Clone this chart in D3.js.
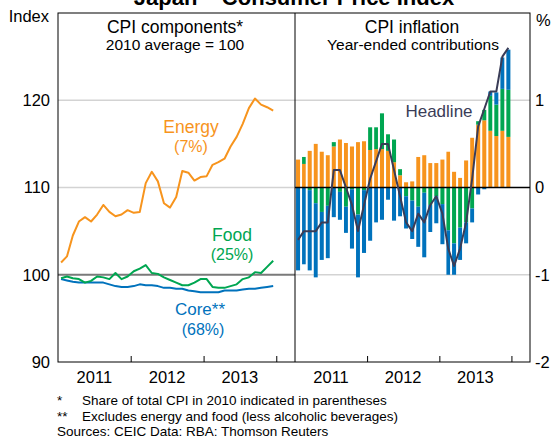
<!DOCTYPE html>
<html><head><meta charset="utf-8">
<script src="https://cdnjs.cloudflare.com/ajax/libs/d3/7.8.5/d3.min.js"></script>
<style>html,body{margin:0;padding:0;background:#fff;} svg{display:block;} text{font-family:"Liberation Sans",Arial,sans-serif;}</style>
</head><body><svg id="c" width="554" height="439"></svg>
<script>
// ---------- data ----------
const months = ["2011-01","2011-02","2011-03","2011-04","2011-05","2011-06","2011-07","2011-08","2011-09","2011-10","2011-11","2011-12",
                "2012-01","2012-02","2012-03","2012-04","2012-05","2012-06","2012-07","2012-08","2012-09","2012-10","2012-11","2012-12",
                "2013-01","2013-02","2013-03","2013-04","2013-05","2013-06","2013-07","2013-08","2013-09","2013-10","2013-11","2013-12"];
// CPI components, index 2010 average = 100
const energyIndex = [101.4,102.1,104.5,106.1,106.6,106.1,106.9,108.0,107.2,106.7,106.9,107.4,
                     107.1,107.2,110.5,111.8,110.7,108.2,107.7,108.9,111.9,111.7,110.8,111.2,
                     111.3,112.6,112.9,113.3,114.7,115.8,117.3,119.1,120.2,119.5,119.2,118.8];
const foodIndex   = [99.6,99.8,99.6,99.5,99.1,99.3,99.8,99.7,99.5,100.2,99.5,99.8,
                     100.4,100.7,101.1,100.2,100.1,99.7,99.4,99.1,98.8,98.8,99.1,99.5,
                     99.5,98.6,98.5,98.5,98.7,98.9,99.5,99.7,100.3,100.2,100.9,101.6];
const coreIndex   = [99.5,99.35,99.2,99.1,99.1,99.1,99.1,99.1,98.9,98.7,98.6,98.6,
                     98.7,98.9,98.8,98.8,98.7,98.5,98.5,98.4,98.4,98.2,98.1,98.0,
                     98.0,98.0,98.0,98.2,98.2,98.2,98.3,98.4,98.4,98.5,98.6,98.7];
// CPI inflation, year-ended contributions (ppt)
const contribEnergy = [0.32,0.27,0.42,0.50,0.41,0.37,0.47,0.55,0.51,0.47,0.52,0.53,
                       0.43,0.44,0.44,0.42,0.29,0.14,0.06,0.07,0.35,0.37,0.28,0.28,
                       0.32,0.41,0.18,0.11,0.31,0.57,0.72,0.77,0.65,0.59,0.65,0.58];
const contribFood   = [0.00,0.08,-0.03,-0.18,-0.28,-0.21,0.05,-0.05,-0.22,-0.02,-0.31,-0.03,
                       0.26,0.25,0.41,0.19,0.26,0.07,-0.10,-0.15,-0.22,-0.06,-0.20,-0.10,
                       -0.19,-0.49,-0.64,-0.46,-0.40,-0.24,0.04,0.12,0.40,0.36,0.48,0.54];
const contribCore   = [-0.95,-0.88,-0.92,-0.85,-0.55,-0.60,-0.34,-0.32,-0.30,-0.68,-0.72,-0.72,
                       -0.61,-0.40,-0.37,-0.14,-0.38,-0.33,-0.37,-0.44,-0.46,-0.74,-0.31,-0.31,
                       -0.46,-0.51,-0.36,-0.37,-0.24,-0.16,-0.08,-0.02,0.05,0.14,0.36,0.46];
const headline      = [-0.6,-0.5,-0.5,-0.5,-0.4,-0.4,0.2,0.2,0.0,-0.2,-0.5,-0.2,
                       0.1,0.3,0.5,0.5,0.2,-0.1,-0.4,-0.5,-0.3,-0.4,-0.2,-0.1,
                       -0.3,-0.7,-0.9,-0.7,-0.4,0.1,0.7,0.9,1.1,1.1,1.5,1.6];
const leftTicks  = [90,100,110,120];
const rightTicks = [-2,-1,0,1];
const yearLabels = ["2011","2012","2013"];
const yearBreaks = ["2012","2013","2014"];

// ---------- layout ----------
const C = {energy:"#F7941D", food:"#00A651", core:"#0072BC", head:"#3A3C57", grid:"#d3d3d3"};
const svg = d3.select("#c");
const T = 13, B = 362, L0 = 58, M = 295, R1 = 530;
const parseM = d3.timeParse("%Y-%m"), parseY = d3.timeParse("%Y");
const dates = months.map(parseM);
const t0 = new Date(2011,0,1), t1 = new Date(2014,3,5);
const xL = d3.scaleTime().domain([t0,t1]).range([L0,M]);
const xR = d3.scaleTime().domain([t0,t1]).range([M,R1]);
const yL = d3.scaleLinear().domain([90,130]).range([B,T]);
const yR = d3.scaleLinear().domain([-2,2]).range([B,T]);
const mid = d => new Date((+d + +d3.timeMonth.offset(d,1))/2);

// title (cropped at top in reference)
svg.append("text").attr("x",294).attr("y",5).attr("text-anchor","middle")
  .attr("font-size",22).attr("font-weight","bold").attr("fill","#000").text("Japan – Consumer Price Index");

// gridlines
const g = svg.append("g");
[110,120].forEach(v => g.append("line").attr("x1",L0).attr("x2",M).attr("y1",yL(v)).attr("y2",yL(v))
  .attr("stroke",C.grid).attr("stroke-width",1.5));
[1,-1].forEach(v => g.append("line").attr("x1",M).attr("x2",R1).attr("y1",yR(v)).attr("y2",yR(v))
  .attr("stroke",C.grid).attr("stroke-width",1.5));
// 100 reference line
g.append("line").attr("x1",L0).attr("x2",M).attr("y1",yL(100)).attr("y2",yL(100))
  .attr("stroke","#7a7a7a").attr("stroke-width",2);

// ---------- left panel lines ----------
const lineL = arr => d3.line().x((d,i)=>xL(mid(dates[i]))).y(d=>yL(d))(arr);
[[coreIndex,C.core],[foodIndex,C.food],[energyIndex,C.energy]].forEach(([a,c]) =>
  svg.append("path").attr("d",lineL(a)).attr("fill","none").attr("stroke",c).attr("stroke-width",2).attr("stroke-linejoin","round"));

// ---------- right panel bars ----------
const rows = dates.map((d,i)=>({date:d, energy:contribEnergy[i], food:contribFood[i], core:contribCore[i]}));
const series = d3.stack().keys(["energy","food","core"]).offset(d3.stackOffsetDiverging)(rows);
const bw = d => (xR(d3.timeMonth.offset(d,1)) - xR(d)) * 0.66;
series.forEach(s => {
  svg.append("g").selectAll("rect").data(s).join("rect")
    .attr("x", d => xR(mid(d.data.date)) - bw(d.data.date)/2)
    .attr("width", d => bw(d.data.date))
    .attr("y", d => yR(Math.max(d[0],d[1])))
    .attr("height", d => Math.abs(yR(d[0]) - yR(d[1])))
    .attr("fill", C[s.key]);
});
// zero line
svg.append("line").attr("x1",M).attr("x2",R1).attr("y1",yR(0)).attr("y2",yR(0)).attr("stroke","#000").attr("stroke-width",1.3);
// headline
svg.append("path").attr("d", d3.line().x((d,i)=>xR(mid(dates[i]))).y(d=>yR(d))(headline))
  .attr("fill","none").attr("stroke",C.head).attr("stroke-width",2).attr("stroke-linejoin","round");

// ---------- frame & axes ----------
svg.append("rect").attr("x",L0).attr("y",T).attr("width",R1-L0).attr("height",B-T)
  .attr("fill","none").attr("stroke","#000").attr("stroke-width",1);
svg.append("line").attr("x1",M).attr("x2",M).attr("y1",T).attr("y2",B).attr("stroke","#000").attr("stroke-width",1);

const breaks = yearBreaks.map(parseY);
[xL,xR].forEach(x => {
  const ax = svg.append("g").attr("transform",`translate(0,${B})`)
    .call(d3.axisBottom(x).tickValues(breaks).tickSize(-6).tickFormat(""));
  ax.select(".domain").remove();
  ax.selectAll("line").attr("stroke","#000");
  yearLabels.forEach(y => {
    const d0 = parseY(y), d1 = d3.timeYear.offset(d0,1);
    svg.append("text").attr("x",(x(d0)+x(d1))/2).attr("y",383).attr("text-anchor","middle")
      .attr("font-size",16.5).attr("fill","#000").text(y);
  });
});

const axL = svg.append("g").attr("transform",`translate(${L0},0)`)
  .call(d3.axisLeft(yL).tickValues(leftTicks).tickSize(0).tickPadding(8).tickFormat(d => String(d)));
axL.select(".domain").remove();
axL.selectAll("text").attr("font-size",16.5).attr("fill","#000").attr("font-family","Liberation Sans, Arial, sans-serif");
const axR = svg.append("g").attr("transform",`translate(${R1},0)`)
  .call(d3.axisRight(yR).tickValues(rightTicks).tickSize(0).tickPadding(5).tickFormat(d => String(d)));
axR.select(".domain").remove();
axR.selectAll("text").attr("font-size",16.5).attr("fill","#000").attr("font-family","Liberation Sans, Arial, sans-serif");

svg.append("text").attr("x",49).attr("y",22).attr("font-size",16.5).attr("text-anchor","end").text("Index");
svg.append("text").attr("x",536).attr("y",26).attr("font-size",16.5).text("%");

// panel titles
const t = (x,y,s,txt,col,anchor) => svg.append("text").attr("x",x).attr("y",y).attr("font-size",s)
  .attr("text-anchor",anchor||"middle").attr("fill",col||"#000").text(txt);
t(175,33,17.5,"CPI components*");
t(175,50,15.5,"2010 average = 100");
t(412,33,17.5,"CPI inflation");
t(413,50,15.5,"Year-ended contributions");

// series labels
t(191,133,17.5,"Energy",C.energy);
t(191,152,16,"(7%)",C.energy);
t(232,241,17.5,"Food",C.food);
t(232,260,16,"(25%)",C.food);
t(200,315,17,"Core**",C.core);
t(203,335,16,"(68%)",C.core);
t(439,117,17,"Headline",C.head);

// footnotes
t(57,405,13.5,"*","#000","start");
t(82,405,13.5,"Share of total CPI in 2010 indicated in parentheses","#000","start");
t(57,420.5,13.5,"**","#000","start");
t(82,420.5,13.5,"Excludes energy and food (less alcoholic beverages)","#000","start");
t(57,436,13.5,"Sources: CEIC Data: RBA: Thomson Reuters","#000","start");
</script></body></html>
